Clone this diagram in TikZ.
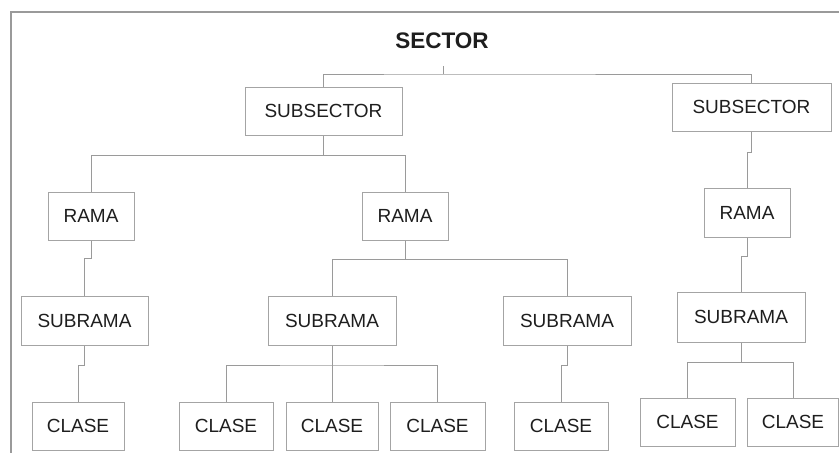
\documentclass[tikz,border=0pt]{standalone}
\usepackage{fontspec}
\setmainfont{Liberation Sans}
\definecolor{linegray}{HTML}{9A9A9A}
\definecolor{boxgray}{HTML}{A4A4A4}
\definecolor{txt}{HTML}{1E1E1E}
\begin{document}
\begin{tikzpicture}[x=1pt,y=1pt,
  box/.style={draw=boxgray,line width=1pt,inner sep=0pt,text=txt,
    font=\fontsize{19}{22}\selectfont},
  conn/.style={draw=linegray,line width=1pt}]
\useasboundingbox (0,0) rectangle (839,-453);
% frame
\draw[linegray,line width=2.2pt] (11,-12) -- (11,-453);
\draw[linegray,line width=1.3pt] (10,-12) -- (839,-12);
% title
\node[text=txt,font=\bfseries\fontsize{22.5}{26}\selectfont] (sector) at (442,-41) {SECTOR};
\coordinate (s0) at (443,-66);
\coordinate (j0) at (443,-74);
% nodes
\node[box,minimum width=157pt,minimum height=48pt] (sub1) at (323.5,-111) {SUBSECTOR};
\node[box,minimum width=159pt,minimum height=48pt] (sub2) at (751.5,-107) {SUBSECTOR};
\node[box,minimum width=86pt,minimum height=48pt] (rama1) at (91,-216) {RAMA};
\node[box,minimum width=86pt,minimum height=48pt] (rama2) at (405,-216) {RAMA};
\node[box,minimum width=86pt,minimum height=49pt] (rama3) at (747,-212.5) {RAMA};
\node[box,minimum width=127pt,minimum height=49pt] (sr1) at (84.5,-320.5) {SUBRAMA};
\node[box,minimum width=128pt,minimum height=49pt] (sr2) at (332,-320.5) {SUBRAMA};
\node[box,minimum width=128pt,minimum height=49pt] (sr3) at (567,-320.5) {SUBRAMA};
\node[box,minimum width=128pt,minimum height=50pt] (sr4) at (741,-317) {SUBRAMA};
\node[box,minimum width=92pt,minimum height=48pt] (c1) at (78,-426) {CLASE};
\node[box,minimum width=94pt,minimum height=48pt] (c2) at (226,-426) {CLASE};
\node[box,minimum width=92pt,minimum height=48pt] (c3) at (332,-426) {CLASE};
\node[box,minimum width=95pt,minimum height=48pt] (c4) at (437.5,-426) {CLASE};
\node[box,minimum width=94pt,minimum height=48pt] (c5) at (561,-426) {CLASE};
\node[box,minimum width=95pt,minimum height=48pt] (c6) at (687.5,-422) {CLASE};
\node[box,minimum width=91pt,minimum height=48pt] (c7) at (793,-422) {CLASE};
% connectors
\draw[conn] (s0) -- (j0);
\draw[conn] (sub1.north) |- (j0) -| (sub2.north);
\draw[conn] (sub1.south) -- ++(0,-20) coordinate (j1);
\draw[conn] (rama1.north) |- (j1) -| (rama2.north);
\draw[conn] (sub2.south) -- ++(0,-21) -| (rama3.north);
\draw[conn] (rama1.south) -- ++(0,-18) -| (sr1.north);
\draw[conn] (sr1.south) -- ++(0,-20) -| (c1.north);
\draw[conn] (rama2.south) -- ++(0,-19) coordinate (j2);
\draw[conn] (sr2.north) |- (j2) -| (sr3.north);
\draw[conn] (sr3.south) -- ++(0,-20) -| (c5.north);
\draw[conn] (sr2.south) -- (c3.north);
\draw[conn] (c2.north) |- (sr2.south |- 0,-365) -| (c4.north);
\draw[conn] (rama3.south) -- ++(0,-19) -| (sr4.north);
\draw[conn] (sr4.south) -- ++(0,-20) coordinate (j4);
\draw[conn] (c6.north) |- (j4) -| (c7.north);
\end{tikzpicture}
\end{document}
